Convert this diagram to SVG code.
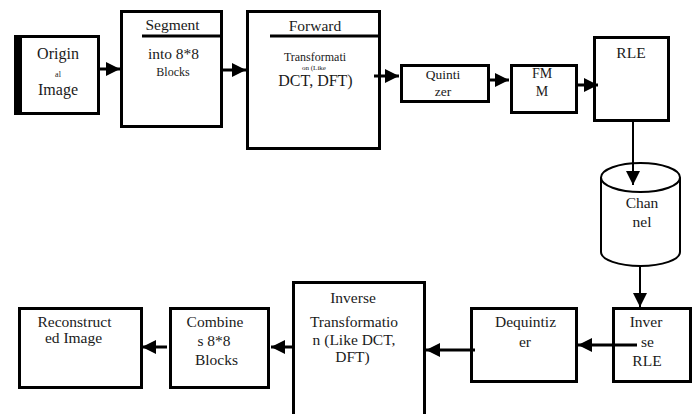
<svg xmlns="http://www.w3.org/2000/svg" width="698" height="414" viewBox="0 0 698 414">
  <style>
    .box { fill: #fff; stroke: #000; stroke-width: 3; }
    .rule { stroke: #000; stroke-width: 3; }
    .drum { fill: #fff; stroke: #000; stroke-width: 2; }
    .t { font-family: "Liberation Serif", "Times New Roman", serif; fill: #1a1a1a; text-anchor: middle; font-size: 15.5px; }
    .s12 { font-size: 12px; }
    .s8 { font-size: 8px; }
    .s7 { font-size: 7px; }
    .s16 { font-size: 16px; }
    .wire { stroke: #000; stroke-width: 3; fill: none; }
    .vwire { stroke: #000; stroke-width: 2; fill: none; }
  </style>
  <defs>
    <marker id="head" markerUnits="userSpaceOnUse" markerWidth="15" markerHeight="15" refX="14" refY="7" orient="auto">
      <path d="M0,0 L14,7 L0,14 Z" fill="#000"/>
    </marker>
  </defs>
  <rect width="698" height="414" fill="#fff"/>

  <g id="original-image">
    <rect class="box" x="15.5" y="36.5" width="83" height="77"/>
    <rect x="14" y="35" width="8" height="80" fill="#000"/>
    <text class="t s16" x="58" y="59">Origin</text>
    <text class="t s8" x="58" y="77">al</text>
    <text class="t s16" x="58" y="95">Image</text>
  </g>

  <g id="segment">
    <rect class="box" x="121.5" y="11.5" width="100" height="115"/>
    <line class="rule" x1="142" y1="36" x2="223" y2="36"/>
    <text class="t" x="172.5" y="30">Segment</text>
    <text class="t" x="173.5" y="59">into 8*8</text>
    <text class="t s12" x="173" y="76">Blocks</text>
  </g>

  <g id="forward-transform">
    <rect class="box" x="247.5" y="11.5" width="132" height="137"/>
    <line class="rule" x1="270" y1="36" x2="380" y2="36"/>
    <text class="t" x="315" y="31">Forward</text>
    <text class="t s12" x="315" y="61">Transformati</text>
    <text class="t s7" x="314" y="70">on (Like</text>
    <text class="t s16" x="315.5" y="86">DCT, DFT)</text>
  </g>

  <g id="quantizer">
    <rect class="box" x="401.5" y="65.5" width="87" height="36"/>
    <text class="t" x="443" y="79" style="font-size:13.5px">Quinti</text>
    <text class="t" x="443" y="96" style="font-size:13.5px">zer</text>
  </g>

  <g id="fmm">
    <rect class="box" x="511.5" y="65.5" width="65" height="47"/>
    <text class="t" x="542" y="78" style="font-size:14px">FM</text>
    <text class="t" x="542" y="96" style="font-size:14px">M</text>
  </g>

  <g id="rle">
    <rect class="box" x="594.5" y="37.5" width="74" height="83"/>
    <text class="t" x="631" y="58">RLE</text>
  </g>

  <g id="channel">
    <path class="drum" d="M601,177.5 L601,252 A39.5,14 0 0 0 680,252 L680,177.5"/>
    <ellipse class="drum" cx="640.5" cy="177.5" rx="39.5" ry="14.5"/>
    <text class="t" x="642" y="208">Chan</text>
    <text class="t" x="642" y="227">nel</text>
  </g>

  <g id="inverse-rle">
    <rect class="box" x="613.5" y="308.5" width="77" height="73"/>
    <text class="t" x="646" y="327">Inver</text>
    <text class="t" x="647.5" y="347">se</text>
    <text class="t" x="647" y="366">RLE</text>
  </g>

  <g id="dequantizer">
    <rect class="box" x="471.5" y="308.5" width="105" height="73"/>
    <text class="t" x="525.5" y="327">Dequintiz</text>
    <text class="t" x="525" y="347">er</text>
  </g>

  <g id="inverse-transform">
    <rect class="box" x="293.5" y="282.5" width="131" height="140"/>
    <text class="t" x="353" y="303">Inverse</text>
    <text class="t" x="354" y="327">Transformatio</text>
    <text class="t" x="354" y="345">n (Like DCT,</text>
    <text class="t" x="352.5" y="362">DFT)</text>
  </g>

  <g id="combine-blocks">
    <rect class="box" x="170.5" y="308.5" width="98" height="79"/>
    <text class="t" x="215" y="327">Combine</text>
    <text class="t" x="214" y="346">s 8*8</text>
    <text class="t" x="216.5" y="365">Blocks</text>
  </g>

  <g id="reconstructed-image">
    <rect class="box" x="19.5" y="308.5" width="122" height="79"/>
    <text class="t" x="74.5" y="327">Reconstruct</text>
    <text class="t" x="73.5" y="343">ed Image</text>
  </g>

  <g id="connectors">
    <line class="wire" x1="97" y1="69" x2="120" y2="69" marker-end="url(#head)"/>
    <line class="wire" x1="223" y1="70" x2="246" y2="70" marker-end="url(#head)"/>
    <line class="wire" x1="374" y1="76" x2="399" y2="76" marker-end="url(#head)"/>
    <line class="wire" x1="490" y1="80" x2="509" y2="80" marker-end="url(#head)"/>
    <line class="wire" x1="578" y1="85" x2="598" y2="85" marker-end="url(#head)"/>
    <line class="vwire" x1="633" y1="122" x2="633" y2="185" marker-end="url(#head)"/>
    <line class="vwire" x1="640" y1="266" x2="640" y2="307" marker-end="url(#head)"/>
    <line class="wire" x1="637" y1="345" x2="578" y2="345" marker-end="url(#head)"/>
    <line class="wire" x1="475" y1="350" x2="426" y2="350" marker-end="url(#head)"/>
    <line class="wire" x1="295" y1="347" x2="271" y2="347" marker-end="url(#head)"/>
    <line class="wire" x1="167" y1="347" x2="142" y2="347" marker-end="url(#head)"/>
  </g>
</svg>
